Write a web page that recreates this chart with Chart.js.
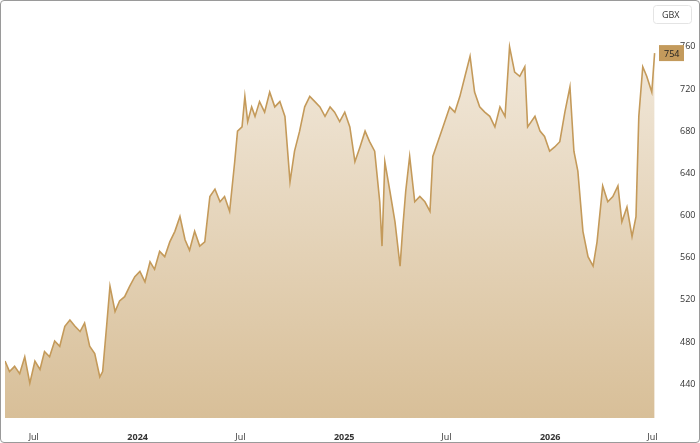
<!DOCTYPE html>
<html>
<head>
<meta charset="utf-8">
<script src="https://cdn.jsdelivr.net/npm/chart.js@4/dist/chart.umd.min.js"></script>
<style>
  html, body { margin: 0; padding: 0; background: #fff; }
  .frame { width: 698px; height: 441px; border: 1px solid #9a9a9a; border-radius: 4px; position: relative; }
  canvas { display: block; }
</style>
</head>
<body>
<div class="frame"><canvas id="c" width="698" height="441"></canvas></div>
<script>
// days since 2023-07-01
var days = [-51,-43,-34,-25,-16,-7,2,11,19,28,37,46,55,64,73,82,90,99,108,117,122,129,135,144,152,161,170,179,188,197,
  206,214,223,232,241,250,259,268,276,285,294,303,312,321,330,338,347,356,361,369,374,379,386,392,400,409,418,427,436,445,
  454,462,471,480,489,498,507,516,525,533,542,551,560,569,578,587,595,604,613,617,622,631,640,649,654,659,666,675,684,693,
  702,707,716,725,737,746,755,764,773,781,790,799,808,817,826,835,843,852,861,870,875,888,897,905,914,923,932,941,950,957,
  964,973,982,991,998,1008,1017,1026,1035,1042,1051,1060,1067,1072,1079,1086,1095,1100];
var prices = [462,452,457,450,466,441,462,454,471,466,481,476,495,501,495,490,498,476,469,447,452,495,533,509,519,523,533,542,547,537,
  556,549,566,561,575,585,599,577,567,585,571,575,618,625,613,618,604,651,680,684,713,689,703,694,708,698,717,703,708,694,
  632,661,680,703,713,708,703,694,703,698,689,698,684,651,665,680,670,661,613,571,651,623,594,552,590,623,656,613,618,613,
  604,656,670,684,703,698,713,732,751,717,703,698,694,684,703,694,760,736,732,741,684,694,680,675,661,665,670,698,722,661,
  642,585,561,552,575,628,613,618,628,594,608,580,599,694,741,732,717,754];
var xTicks = [0, 184, 366, 550, 731, 915, 1096];
var xTickLabels = ['Jul', '2024', 'Jul', '2025', 'Jul', '2026', 'Jul'];
var yTicks = [440, 480, 520, 560, 600, 640, 680, 720, 760];
var lastLabel = '754';
var unit = 'GBX';

var points = days.map(function (d, i) { return { x: d, y: prices[i] }; });

var tagPlugin = {
  id: 'tags',
  afterDraw: function (chart) {
    var ctx = chart.ctx, ya = chart.scales.y;
    var yy = ya.getPixelForValue(prices[prices.length - 1]);
    ctx.save();
    ctx.fillStyle = '#c39a5c';
    ctx.fillRect(658, yy - 8, 25, 16);
    ctx.fillStyle = '#222';
    ctx.font = '9px "Open Sans"';
    ctx.textBaseline = 'middle';
    ctx.fillText(lastLabel, 663, yy + 1);
    // unit box
    ctx.strokeStyle = '#e4e4e4';
    ctx.lineWidth = 1;
    ctx.beginPath();
    ctx.roundRect(652.5, 4.5, 38, 18, 3);
    ctx.fillStyle = '#fff';
    ctx.fill();
    ctx.stroke();
    ctx.fillStyle = '#333';
    ctx.fillText(unit, 661, 14);
    ctx.restore();
  }
};

new Chart(document.getElementById('c'), {
  type: 'line',
  data: {
    datasets: [{
      data: points,
      borderColor: '#c49a5a',
      borderWidth: 1.6,
      pointRadius: 0,
      tension: 0,
      fill: 'start',
      backgroundColor: function (c) {
        var a = c.chart.chartArea;
        if (!a) return '#e6d5bb';
        var g = c.chart.ctx.createLinearGradient(0, a.top, 0, a.bottom);
        g.addColorStop(0, '#f3ebdf');
        g.addColorStop(1, '#d8bf98');
        return g;
      }
    }]
  },
  plugins: [tagPlugin],
  options: {
    responsive: false,
    animation: false,
    layout: { padding: { left: 4, top: 4, right: 0, bottom: 0 } },
    plugins: { legend: { display: false }, tooltip: { enabled: false } },
    scales: {
      x: {
        type: 'linear', min: -51, max: 1106,
        grid: { display: false }, border: { display: false },
        afterFit: function (s) { s.height = 24; },
        afterBuildTicks: function (s) { s.ticks = xTicks.map(function (v) { return { value: v }; }); },
        ticks: {
          autoSkip: false, maxRotation: 0, color: '#333', padding: 6,
          font: function (c) {
            var i = xTicks.indexOf(c.tick && c.tick.value);
            return { family: 'Open Sans', size: 9, weight: (i % 2 === 1) ? 'bold' : 'normal' };
          },
          callback: function (v) { return xTickLabels[xTicks.indexOf(v)]; }
        }
      },
      y: {
        position: 'right', min: 408, max: 785,
        grid: { display: false }, border: { display: false },
        afterFit: function (s) { s.width = 41; },
        afterBuildTicks: function (s) { s.ticks = yTicks.map(function (v) { return { value: v }; }); },
        ticks: { color: '#333', padding: 14, font: { family: 'Open Sans', size: 9 } }
      }
    }
  }
});
</script>
</body>
</html>
